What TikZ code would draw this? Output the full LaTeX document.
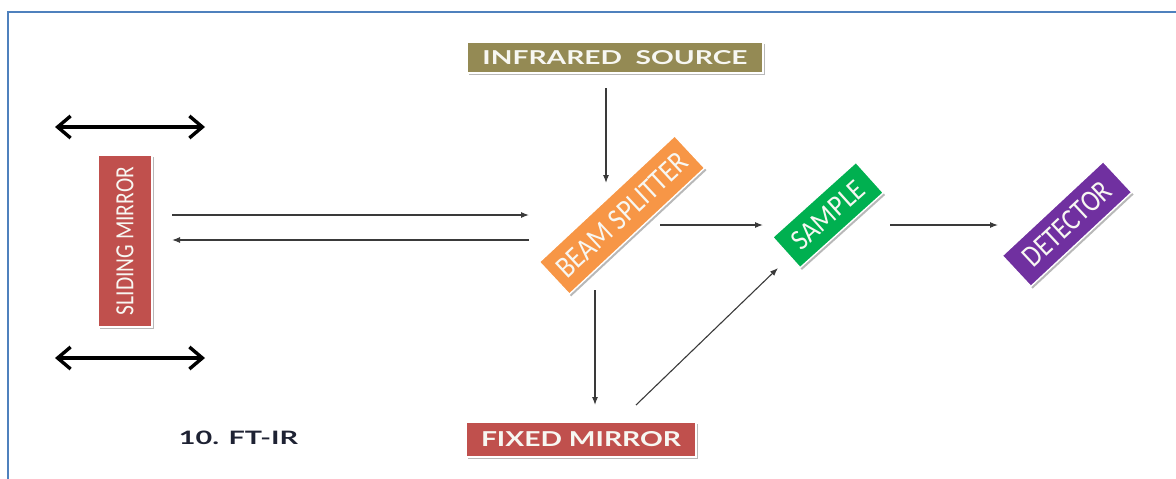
\documentclass[tikz,border=0pt]{standalone}
\usepackage{fontspec}
\usepackage{graphicx}
\usetikzlibrary{arrows.meta,shadows}
\newfontfamily\labelfont{Carlito}
\newfontfamily\capsfont{Lato}
\definecolor{frameblue}{HTML}{4F81BD}
\definecolor{sourceolive}{HTML}{948A54}
\definecolor{mirrorred}{HTML}{C0504D}
\definecolor{splitorange}{HTML}{F79646}
\definecolor{samplegreen}{HTML}{00B050}
\definecolor{detpurple}{HTML}{7030A0}
\definecolor{beamgray}{HTML}{3A3A3A}
\definecolor{captionink}{HTML}{1E2233}
\definecolor{labelwhite}{HTML}{F7F7F2}
% scale a label to a given width and cap height (in pt)
\newcommand\fitlabel[3]{\resizebox{#1pt}{#2pt}{#3}}
\tikzset{
  every node/.style={inner sep=0pt},
  panel/.style={draw=white, line width=1.4pt, text=labelwhite,
    drop shadow={shadow xshift=1.8pt, shadow yshift=-2.2pt, opacity=0.28, fill=black}},
  beam/.style={draw=beamgray, line width=1.1pt, -{Latex[length=8pt,width=6pt]}},
  travel/.style={draw=black, line width=3.4pt,
    {Straight Barb[length=13pt,width=22pt]}-{Straight Barb[length=13pt,width=22pt]}},
}
\begin{document}
\begin{tikzpicture}[x=1pt,y=-1pt]
\useasboundingbox (0,0) rectangle (1176,479);
% frame
\draw[frameblue, line width=2.2pt] (8,480) -- (8,12) -- (1177,12);

% components
\node[panel, fill=sourceolive, minimum width=296pt, minimum height=31pt] (ir) at (615,57.5)
  {\fitlabel{265}{14}{\capsfont\bfseries INFRARED\ \ SOURCE}};
\node[panel, fill=mirrorred, minimum width=172pt, minimum height=54pt, rotate=90] (sm) at (125,241)
  {\fitlabel{148}{17}{\labelfont SLIDING MIRROR}};
\node[panel, fill=splitorange, minimum width=185pt, minimum height=44pt, rotate=43] (bs) at (622,215)
  {\fitlabel{168}{20}{\labelfont BEAM SPLITTER}};
\node[panel, fill=samplegreen, minimum width=112pt, minimum height=41pt, rotate=42] (sa) at (828,215)
  {\fitlabel{88}{19}{\labelfont SAMPLE}};
\node[panel, fill=detpurple, minimum width=138pt, minimum height=42pt, rotate=43] (de) at (1067,224)
  {\fitlabel{110}{20}{\labelfont DETECTOR}};
\node[panel, fill=mirrorred, minimum width=230pt, minimum height=35pt] (fm) at (581,439.5)
  {\fitlabel{200}{15}{\capsfont\bfseries FIXED MIRROR}};
\node[text=captionink] (cap) at (238.5,438)
  {\fitlabel{119}{13.5}{\capsfont\bfseries 10. FT-IR}};

% travel of the sliding mirror
\coordinate (ltop) at (55,127);
\coordinate (rtop) at (205,127);
\coordinate (lbot) at (55,358);
\coordinate (rbot) at (205,358);
\draw[travel] (ltop) -- (rtop);
\draw[travel] (lbot) -- (rbot);

% beam paths
\draw[beam] ([shift={(-9,30.5)}]ir.center) -- ([shift={(-16,-32)}]bs.center);
\draw[beam] ([shift={(47,-26)}]sm.center) -- ([shift={(-93,0)}]bs.center);
\draw[beam] ([shift={(-93,25)}]bs.center) -- ([shift={(47,-1)}]sm.center);
\draw[beam] ([shift={(38,10)}]bs.center) -- ([shift={(-65,10)}]sa.center);
\draw[beam] ([shift={(62,10)}]sa.center) -- ([shift={(-69,1)}]de.center);
\draw[beam] ([shift={(-27,75)}]bs.center) -- ([shift={(14,-34.5)}]fm.center);
\draw[beam] ([shift={(55,-34.5)}]fm.center) -- ([shift={(-50,53)}]sa.center);
\end{tikzpicture}
\end{document}
